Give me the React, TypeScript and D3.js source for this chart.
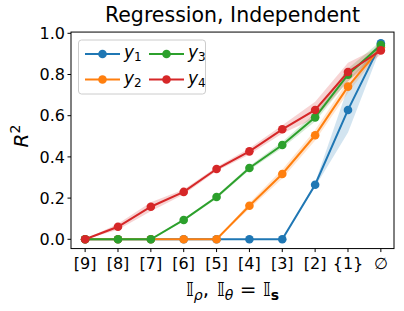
import * as d3 from 'd3';
import React from 'react';

const categories = ['[9]', '[8]', '[7]', '[6]', '[5]', '[4]', '[3]', '[2]', '{1}', '∅'];
const yTicks = [0, 0.2, 0.4, 0.6, 0.8, 1.0];

const y1 = [0, 0, 0, 0, 0, 0, 0, 0.265, 0.628, 0.951];
const y2 = [0, 0, 0, 0, 0, 0.163, 0.317, 0.505, 0.741, 0.932];
const y3 = [0, 0, 0, 0.094, 0.205, 0.346, 0.458, 0.592, 0.799, 0.943];
const y4 = [0, 0.061, 0.158, 0.23, 0.341, 0.427, 0.534, 0.628, 0.812, 0.917];

// half-width of the shaded band
const y1Err = [0, 0, 0, 0, 0, 0, 0, 0.01, 0.11, 0.02];
const y2Err = [0, 0, 0, 0, 0, 0.015, 0.022, 0.025, 0.03, 0.015];
const y3Err = [0, 0, 0, 0.005, 0.008, 0.01, 0.015, 0.02, 0.03, 0.02];
const y4Err = [0, 0.015, 0.022, 0.012, 0.01, 0.015, 0.02, 0.04, 0.045, 0.02];

const series = [
  { name: '1', values: y1, err: y1Err, color: '#1f77b4' },
  { name: '2', values: y2, err: y2Err, color: '#ff7f0e' },
  { name: '3', values: y3, err: y3Err, color: '#2ca02c' },
  { name: '4', values: y4, err: y4Err, color: '#d62728' },
];

const font = 'DejaVu Sans, sans-serif';

export default function App() {
  const x = d3.scaleLinear().domain([-0.43, 9.4]).range([71, 394]);
  const y = d3.scaleLinear().domain([0, 1]).range([239.3, 33.3]);
  const top = y(1.006);
  const bottom = y(-0.045);
  const left = x(-0.43);
  const right = x(9.4);

  const line = d3.line<number>().x((_, i) => x(i)).y(d => y(d));

  return (
    <svg width={404} height={311} style={{ position: 'absolute', left: 0, top: 0, background: '#fff' }} fontFamily={font}>
      {series.map(s => {
        const area = d3.area<number>()
          .x((_, i) => x(i))
          .y0((d, i) => y(d - s.err[i]))
          .y1((d, i) => y(d + s.err[i]));
        return <path key={'a' + s.name} d={area(s.values)!} fill={s.color} fillOpacity={0.2} stroke="none" />;
      })}
      {series.map(s => (
        <g key={'l' + s.name}>
          <path d={line(s.values)!} fill="none" stroke={s.color} strokeWidth={2} />
          {s.values.map((v, i) => (
            <circle key={i} cx={x(i)} cy={y(v)} r={4.3} fill={s.color} />
          ))}
        </g>
      ))}
      <rect x={left} y={top} width={right - left} height={bottom - top} fill="none" stroke="#000" strokeWidth={1} />
      {yTicks.map(t => (
        <g key={t}>
          <line x1={left - 3.5} x2={left} y1={y(t)} y2={y(t)} stroke="#000" />
          <text x={left - 6} y={y(t)} dy="0.36em" textAnchor="end" fontSize={16}>{t.toFixed(1)}</text>
        </g>
      ))}
      {categories.map((c, i) => (
        <g key={c}>
          <line x1={x(i)} x2={x(i)} y1={bottom} y2={bottom + 3.5} stroke="#000" />
          <text x={x(i)} y={269} textAnchor="middle" fontSize={16}>{c}</text>
        </g>
      ))}
      <text x={(left + right) / 2} y={22} textAnchor="middle" fontSize={20.5}>Regression, Independent</text>
      <text transform={`translate(28,136) rotate(-90)`} textAnchor="middle" fontSize={20}>
        <tspan fontStyle="italic">R</tspan>
        <tspan fontSize={14} dy={-8}>2</tspan>
      </text>
      <text x={(left + right) / 2} y={296} textAnchor="middle" fontSize={20}>
        <tspan>𝕀</tspan>
        <tspan fontSize={14} fontStyle="italic" dy={4}>ρ</tspan>
        <tspan dy={-4}>,</tspan>
        <tspan dx={8}>𝕀</tspan>
        <tspan fontSize={14} fontStyle="italic" dy={4}>θ</tspan>
        <tspan dy={-4}> = 𝕀</tspan>
        <tspan fontSize={14} fontWeight="bold" dy={4}>s</tspan>
      </text>
      <g>
        <rect x={78.5} y={40} width={127} height={54} rx={3} fill="#fff" fillOpacity={0.8} stroke="#ccc" />
        {series.map((s, i) => {
          const col = i < 2 ? 0 : 1;
          const row = i % 2;
          const hx = 85 + col * 64;
          const hy = 54 + row * 25.5;
          return (
            <g key={'lg' + s.name}>
              <line x1={hx} x2={hx + 35} y1={hy} y2={hy} stroke={s.color} strokeWidth={2} />
              <circle cx={hx + 17.5} cy={hy} r={4.3} fill={s.color} />
              <text x={hx + 39} y={hy + 4} fontSize={17}>
                <tspan fontStyle="italic">y</tspan>
                <tspan fontSize={12} dy={3}>{s.name}</tspan>
              </text>
            </g>
          );
        })}
      </g>
    </svg>
  );
}
